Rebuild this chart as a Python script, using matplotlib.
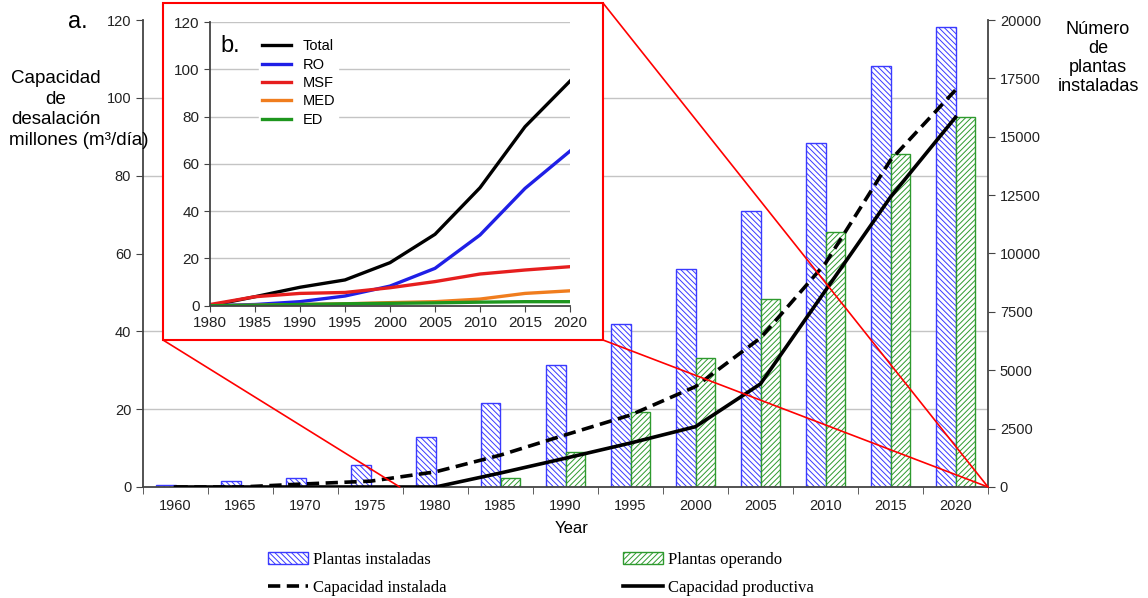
import numpy as np
import matplotlib.pyplot as plt
from matplotlib.patches import Rectangle, Patch, ConnectionPatch
from matplotlib.lines import Line2D

plt.rcParams['font.family'] = ['Liberation Sans', 'DejaVu Sans']
plt.rcParams['hatch.linewidth'] = 0.7

# main chart data
years = [1960, 1965, 1970, 1975, 1980, 1985, 1990, 1995, 2000, 2005, 2010, 2015, 2020]
plantas_instaladas = [100, 250, 400, 950, 2150, 3600, 5230, 6980, 9340, 11820, 14730, 18050, 19700]
plantas_operando = [0, 0, 0, 0, 0, 400, 1500, 3230, 5530, 8050, 10920, 14260, 15860]
cap_instalada = [0, 0, 0.8, 1.5, 3.9, 8.2, 13.4, 18.5, 25.8, 38.3, 57.5, 84, 102]
cap_productiva = [0, 0, 0, 0, 0, 3.6, 7.4, 11.3, 15.5, 26.5, 50.5, 74.5, 95]

# inset data
years_b = [1980, 1985, 1990, 1995, 2000, 2005, 2010, 2015, 2020]
total = [0, 3.8, 7.8, 10.9, 18.2, 30.2, 49.9, 75.7, 95]
ro = [0, 0.5, 1.7, 4.1, 8.3, 15.8, 29.9, 49.6, 65.4]
msf = [0.5, 3.8, 5.2, 5.6, 7.6, 10.2, 13.4, 15.1, 16.5]
med = [0, 0.2, 0.5, 0.8, 1.3, 1.7, 2.8, 5.2, 6.3]
ed = [0, 0.2, 0.5, 0.8, 1.0, 1.2, 1.5, 1.7, 1.7]

W, H = 1148, 598
fig = plt.figure(figsize=(W / 100, H / 100), dpi=100)

def fx(px):
    return px / W

def fy(py):
    return 1 - py / H

# --- main axes: bars on right scale ---
axb = fig.add_axes([fx(143), fy(487), fx(988 - 143), fy(20) - fy(487)])
axl = axb.twinx()  # lines, left scale

x = np.arange(len(years))
bw = 0.3
blue = '#3a3aff'
green = '#2e9a2e'
hatch_b = '\\\\\\\\\\\\'
hatch_g = '//////'
axb.bar(x - bw / 2, plantas_instaladas, bw, facecolor='white', edgecolor=blue,
        hatch=hatch_b, linewidth=1.0, zorder=2)
axb.bar(x + bw / 2, plantas_operando, bw, facecolor='white', edgecolor=green,
        hatch=hatch_g, linewidth=1.0, zorder=2)
axb.set_xlim(-0.5, len(years) - 0.5)
axb.set_ylim(0, 20000)
axb.yaxis.tick_right()
axb.set_yticks(np.arange(0, 20001, 2500))
axb.set_yticks(np.arange(1, 6) * 20000 / 6, minor=True)
axb.tick_params(axis='y', which='minor', length=0)
axb.grid(axis='y', which='minor', color='#c4c4c4', linewidth=1.0, zorder=0)
axb.set_axisbelow(True)
axb.set_xticks(x)
axb.set_xticklabels([str(y) for y in years])
axb.set_xticks(np.arange(-0.5, len(years)), minor=True)
axb.tick_params(axis='x', which='major', length=0, labelsize=10.5, pad=9, colors='#222222')
axb.tick_params(axis='x', which='minor', length=5, color='#444444')
axb.tick_params(axis='y', which='major', labelsize=10.5, length=5, color='#444444',
                labelcolor='#222222', right=True, labelright=True, left=False, labelleft=False)
axb.spines['top'].set_visible(False)
for s in ['left', 'right', 'bottom']:
    axb.spines[s].set_color('#444444')
    axb.spines[s].set_linewidth(1.3)
axb.set_xlabel('Year', fontsize=12)
axb.xaxis.set_label_coords((572 - 143) / (988 - 143), -0.072)

axl.yaxis.tick_left()
axl.set_ylim(0, 120)
axl.set_yticks(np.arange(0, 121, 20))
axl.tick_params(axis='y', labelsize=10.5, length=5, color='#444444', labelcolor='#222222',
                left=True, labelleft=True, right=False, labelright=False)
for s in axl.spines.values():
    s.set_visible(False)
axl.plot(x, cap_instalada, color='black', lw=2.6, dashes=(3.4, 1.8), zorder=3)
axl.plot(x, cap_productiva, color='black', lw=2.6, zorder=3)

fig.text(fx(78), fy(22), 'a.', fontsize=17, ha='center', va='center')
fig.text(fx(56), fy(99), 'Capacidad\nde\ndesalación', fontsize=13.5,
         ha='center', va='center', linespacing=1.25)
fig.text(fx(9), fy(140), 'millones (m³/día)', fontsize=13.5, ha='left', va='center')
fig.text(fx(1098), fy(58), 'Número\nde\nplantas\ninstaladas', fontsize=13,
         ha='center', va='center', linespacing=1.15)

# --- inset frame and zoom lines ---
box = Rectangle((fx(163), fy(340)), fx(603 - 163), fy(3) - fy(340), transform=fig.transFigure,
                facecolor='white', edgecolor='red', linewidth=1.5, zorder=1.5)
fig.add_artist(box)
for corner, target in [((fx(163), fy(340)), (3.45, 0)),
                       ((fx(603), fy(340)), (12.5, 0)),
                       ((fx(603), fy(3)), (12.5, 0))]:
    cp = ConnectionPatch(xyA=corner, coordsA=fig.transFigure, xyB=target, coordsB=axl.transData,
                         color='red', linewidth=1.2, zorder=1.2)
    fig.add_artist(cp)

# --- inset axes ---
axi = fig.add_axes([fx(210), fy(305.7), fx(570 - 210), fy(22) - fy(305.7)])
axi.set_zorder(2)
axi.patch.set_alpha(0)
axi.plot(years_b, total, color='black', lw=2.4, label='Total')
axi.plot(years_b, ro, color='#1f1fe6', lw=2.4, label='RO')
axi.plot(years_b, msf, color='#e61e1e', lw=2.4, label='MSF')
axi.plot(years_b, med, color='#f07d1e', lw=2.4, label='MED')
axi.plot(years_b, ed, color='#1e961e', lw=2.4, label='ED')
axi.set_xlim(1980, 2020)
axi.set_ylim(0, 120)
axi.set_xticks(years_b)
axi.set_yticks(np.arange(0, 121, 20))
axi.grid(axis='y', color='#c4c4c4', linewidth=1.0)
axi.set_axisbelow(True)
axi.tick_params(labelsize=11, length=4, color='#444444', labelcolor='#222222')
axi.spines['top'].set_visible(False)
axi.spines['right'].set_visible(False)
for s in ['left', 'bottom']:
    axi.spines[s].set_color('#444444')
    axi.spines[s].set_linewidth(1.3)
leg_b = axi.legend(loc='upper left', bbox_to_anchor=(0.115, 0.975), fontsize=10.5, frameon=True,
                   handlelength=2.0, handletextpad=0.8, labelspacing=0.3, borderpad=0.2)
leg_b.get_frame().set_edgecolor('white')
leg_b.get_frame().set_facecolor('white')
leg_b.get_frame().set_alpha(1)
axi.text(0.03, 0.955, 'b.', transform=axi.transAxes, fontsize=17, ha='left', va='top')

# --- bottom legend ---
handles = [
    Patch(facecolor='white', edgecolor=blue, hatch=hatch_b, label='Plantas instaladas'),
    Line2D([], [], color='black', lw=2.6, dashes=(3.4, 1.8), label='Capacidad instalada'),
    Patch(facecolor='white', edgecolor=green, hatch=hatch_g, label='Plantas operando'),
    Line2D([], [], color='black', lw=2.6, label='Capacidad productiva'),
]
fig.legend(handles=handles, loc='upper left', bbox_to_anchor=(fx(253), fy(537)), ncol=2,
           frameon=False, prop={'family': 'Liberation Serif', 'size': 12},
           handlelength=2.4, handletextpad=0.3, columnspacing=10.6, labelspacing=0.7)

fig.savefig('out.png', dpi=100)
